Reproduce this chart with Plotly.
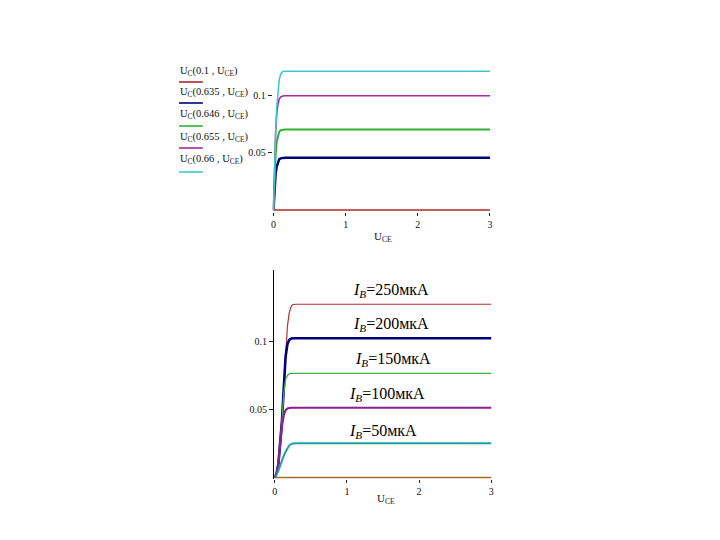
import plotly.graph_objects as go

W, H = 720, 540

# ---------------- data: top chart (collector current vs U_CE for several U_BE) ----------------
ube_values = [0.1, 0.635, 0.646, 0.655, 0.66]
top_colors = ["#b02828", "#00007f", "#33b033", "#a828a8", "#3cc8c8"]
top_widths = [1.5, 2.5, 2.0, 1.6, 1.5]
x_top = [0, 0.01, 0.02, 0.03, 0.045, 0.06, 0.08, 0.1, 0.13, 0.16, 3.0]
ic_top = [
    [0, 0, 0, 0, 0, 0, 0, 0, 0, 0, 0],
    [0, 0.014, 0.025, 0.032, 0.038, 0.042, 0.0445, 0.0452, 0.0456, 0.0457, 0.0457],
    [0, 0.022, 0.038, 0.049, 0.060, 0.065, 0.0685, 0.0698, 0.0704, 0.0705, 0.0705],
    [0, 0.030, 0.052, 0.068, 0.084, 0.092, 0.097, 0.0990, 0.0998, 0.1000, 0.1000],
    [0, 0.027, 0.050, 0.068, 0.090, 0.104, 0.114, 0.119, 0.1212, 0.1215, 0.1215],
]

# ---------------- data: bottom chart (family for base currents) ----------------
ib_labels = ["250", "200", "150", "100", "50", "0"]
bot_colors = ["#b03030", "#00007f", "#3cb043", "#8e1e8e", "#1fa0a0", "#a86a2a"]
bot_widths = [1.2, 2.6, 1.3, 2.2, 2.0, 1.5]
x_bot = [0, 0.025, 0.05, 0.075, 0.1, 0.125, 0.15, 0.175, 0.2, 0.225, 0.25, 0.3, 3.0]
ic_bot = [
    [0, 0.003, 0.010, 0.024, 0.042, 0.067, 0.093, 0.111, 0.121, 0.1255, 0.1272, 0.1274, 0.1274],
    [0, 0.003, 0.010, 0.024, 0.042, 0.066, 0.089, 0.098, 0.1012, 0.1021, 0.1024, 0.1024, 0.1024],
    [0, 0.003, 0.010, 0.024, 0.042, 0.062, 0.072, 0.075, 0.0762, 0.0765, 0.0766, 0.0766, 0.0766],
    [0, 0.003, 0.010, 0.024, 0.038, 0.046, 0.0495, 0.0507, 0.0511, 0.0513, 0.0513, 0.0513, 0.0513],
    [0, 0.002, 0.005, 0.009, 0.013, 0.016, 0.019, 0.0215, 0.0235, 0.0246, 0.0250, 0.0251, 0.0251],
    [0, 0, 0, 0, 0, 0, 0, 0, 0, 0, 0, 0, 0],
]

x_ticks = [0, 1, 2, 3]
y_ticks = [0.05, 0.1]
y_ticktext = ["0.05", "0.1"]


def dom_x(pa, va, pb, vb, r0, r1):
    s = (pb - pa) / (vb - va)
    return [(pa + (r0 - va) * s) / W, (pa + (r1 - va) * s) / W]


def dom_y(pa, va, pb, vb, r0, r1):
    s = (pb - pa) / (vb - va)
    return [1 - (pa + (r0 - va) * s) / H, 1 - (pa + (r1 - va) * s) / H]


def px(x):
    return x / W


def py(y):
    return 1 - y / H


fig = go.Figure()

for i, u in enumerate(ube_values):
    fig.add_trace(go.Scatter(x=x_top, y=ic_top[i], mode="lines",
                             line=dict(color=top_colors[i], width=top_widths[i]),
                             xaxis="x", yaxis="y", showlegend=False))

for i, lab in enumerate(ib_labels):
    fig.add_trace(go.Scatter(x=x_bot, y=ic_bot[i], mode="lines",
                             line=dict(color=bot_colors[i], width=bot_widths[i]),
                             xaxis="x2", yaxis="y2", showlegend=False))

tick_font = dict(family="Liberation Serif", size=10, color="#111")

xr1 = [-0.01, 3.01]
yr1 = [-0.0015, 0.13]
xr2 = [-0.01, 3.01]
yr2 = [-0.0012, 0.1526]

fig.update_layout(
    width=W, height=H, margin=dict(l=0, r=0, t=0, b=0),
    paper_bgcolor="white", plot_bgcolor="rgba(0,0,0,0)",
    xaxis=dict(domain=dom_x(273, 0, 490.7, 3, *xr1), range=xr1, anchor="y",
               tickvals=x_ticks, ticks="outside", ticklen=3, tickcolor="#222",
               showgrid=False, zeroline=False, showline=False, tickfont=tick_font),
    yaxis=dict(domain=dom_y(210, 0, 95.7, 0.1, *yr1), range=yr1, anchor="x",
               tickvals=y_ticks, ticktext=y_ticktext, ticks="outside", ticklen=4,
               tickcolor="#222", showgrid=False, zeroline=False, showline=False,
               tickfont=tick_font),
    xaxis2=dict(domain=dom_x(274.3, 0, 492, 3, *xr2), range=xr2, anchor="y2",
                tickvals=x_ticks, ticks="outside", ticklen=3, tickcolor="#222",
                showgrid=False, zeroline=False, showline=False, tickfont=tick_font),
    yaxis2=dict(domain=dom_y(477.5, 0, 341.5, 0.1, *yr2), range=yr2, anchor="x2",
                tickvals=y_ticks, ticktext=y_ticktext, ticks="outside", ticklen=4,
                tickcolor="#222", showgrid=False, zeroline=False, showline=True,
                linecolor="black", linewidth=1, tickfont=tick_font),
)

annotations = []
shapes = []

# top legend (text with a coloured line below each entry)
leg_text_y = [71.5, 92.5, 114, 137, 159]
leg_line_y = [82, 103, 126, 148, 172]
for i, u in enumerate(ube_values):
    annotations.append(dict(
        x=px(177), y=py(leg_text_y[i]), xref="paper", yref="paper",
        xanchor="left", yanchor="middle", showarrow=False,
        text=f"U<sub>C</sub>({u:g} , U<sub>CE</sub>)",
        font=dict(family="Liberation Serif", size=10.5, color="#111")))
    shapes.append(dict(type="line", xref="paper", yref="paper",
                       x0=px(178), x1=px(202), y0=py(leg_line_y[i]), y1=py(leg_line_y[i]),
                       line=dict(color=top_colors[i], width=1.6)))

# axis titles
annotations.append(dict(x=px(383), y=py(237), xref="paper", yref="paper",
                        xanchor="center", yanchor="middle", showarrow=False,
                        text="U<sub>CE</sub>",
                        font=dict(family="Liberation Serif", size=11, color="#111")))
annotations.append(dict(x=px(386), y=py(499), xref="paper", yref="paper",
                        xanchor="center", yanchor="middle", showarrow=False,
                        text="U<sub>CE</sub>",
                        font=dict(family="Liberation Serif", size=11, color="#111")))

# bottom curve labels
lab_x = [351, 351, 353, 347, 347]
lab_y = [290, 324, 359, 394, 431]
for i in range(5):
    annotations.append(dict(
        x=px(lab_x[i]), y=py(lab_y[i]), xref="paper", yref="paper",
        xanchor="left", yanchor="middle", showarrow=False,
        text=f"<i>I</i><sub><i>B</i></sub>={ib_labels[i]}мкА",
        font=dict(family="Liberation Serif", size=16, color="black")))

fig.update_layout(annotations=annotations, shapes=shapes)

fig.write_html("out.html")
